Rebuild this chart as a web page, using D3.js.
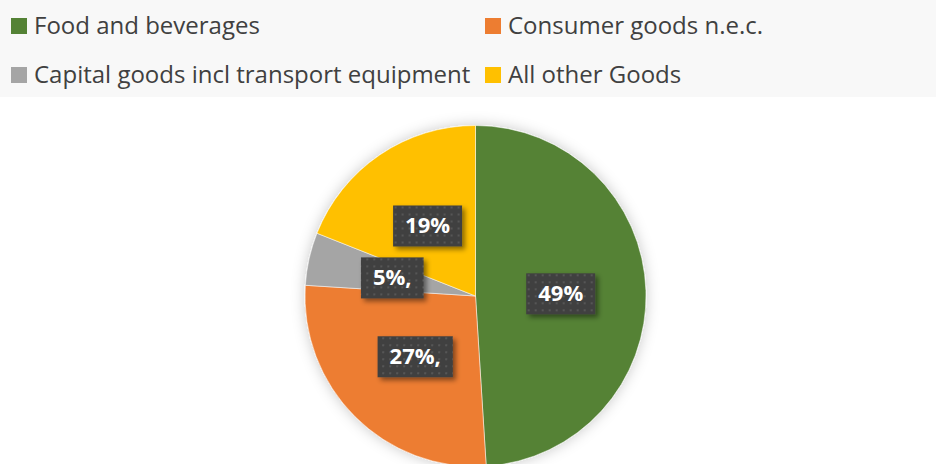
<!DOCTYPE html>
<html>
<head>
<meta charset="utf-8">
<script src="https://cdn.jsdelivr.net/npm/d3@7"></script>
<style>
  body { margin: 0; background: #fff; }
  svg { display: block; }
</style>
</head>
<body>
<div id="container"></div>
<script>
// Chart dimensions
const width = 936;
const height = 464;

// Data
const categories = ["Food and beverages", "Consumer goods n.e.c.", "Capital goods incl transport equipment", "All other Goods"];
const shares = [49, 27, 5, 19];
const labels = ["49%", "27%,", "5%,", "19%"];
const colors = ["#548235", "#ED7D31", "#A5A5A5", "#FFC000"];

const svg = d3.select("#container").append("svg")
    .attr("width", width)
    .attr("height", height);

const defs = svg.append("defs");

// soft glow round the pie
const glow = defs.append("filter").attr("id", "glow")
    .attr("x", "-20%").attr("y", "-20%").attr("width", "140%").attr("height", "140%");
glow.append("feDropShadow")
    .attr("dx", 0).attr("dy", 0)
    .attr("stdDeviation", 7)
    .attr("flood-color", "#000")
    .attr("flood-opacity", 0.22);

// shadow for the label boxes
const boxShadow = defs.append("filter").attr("id", "boxShadow")
    .attr("x", "-30%").attr("y", "-30%").attr("width", "160%").attr("height", "160%");
boxShadow.append("feDropShadow")
    .attr("dx", 3).attr("dy", 3)
    .attr("stdDeviation", 2.5)
    .attr("flood-color", "#000")
    .attr("flood-opacity", 0.45);

// dotted fill of the label boxes
const dots = defs.append("pattern").attr("id", "dots")
    .attr("width", 7).attr("height", 7)
    .attr("patternUnits", "userSpaceOnUse");
dots.append("rect").attr("width", 7).attr("height", 7).attr("fill", "#404040");
dots.append("rect").attr("x", 2).attr("y", 2).attr("width", 2).attr("height", 2).attr("fill", "#575757");

// Legend band
svg.append("rect")
    .attr("x", 0).attr("y", 0)
    .attr("width", width).attr("height", 97)
    .attr("fill", "#f8f8f8");

const legendX = d3.scalePoint().domain([0, 1]).range([11, 485]);
const legendY = d3.scalePoint().domain([0, 1]).range([34, 83]);

const legend = svg.append("g")
    .selectAll("g")
    .data(categories)
    .join("g")
    .attr("transform", (d, i) => `translate(${legendX(i % 2)},${legendY(Math.floor(i / 2))})`);

legend.append("rect")
    .attr("x", 0).attr("y", -16)
    .attr("width", 16).attr("height", 16)
    .attr("fill", (d, i) => colors[i]);

legend.append("text")
    .attr("x", 23)
    .attr("y", 0)
    .attr("fill", "#404040")
    .style("font-family", "'Open Sans', sans-serif")
    .style("font-size", "24px")
    .text(d => d);

// Pie
const cx = 475.5, cy = 296, radius = 170.5;

const pie = d3.pie().sort(null).value(d => d);
const arcs = pie(shares);
const arc = d3.arc().innerRadius(0).outerRadius(radius);

const g = svg.append("g").attr("transform", `translate(${cx},${cy})`);

g.append("g")
    .attr("filter", "url(#glow)")
    .selectAll("path")
    .data(arcs)
    .join("path")
    .attr("d", arc)
    .attr("fill", (d, i) => colors[i])
    .attr("stroke", "#fff")
    .attr("stroke-opacity", 0.5)
    .attr("stroke-width", 1);

// Data labels
const lab = g.append("g")
    .selectAll("g")
    .data(arcs)
    .join("g")
    .attr("transform", d => `translate(${arc.centroid(d)})`);

lab.append("text")
    .attr("text-anchor", "middle")
    .attr("dy", "0.36em")
    .attr("fill", "#fff")
    .style("font-family", "'Open Sans', sans-serif")
    .style("font-weight", "bold")
    .style("font-size", "22px")
    .text((d, i) => labels[i]);

lab.each(function() {
    const t = d3.select(this).select("text");
    const w = t.node().getComputedTextLength();
    d3.select(this).insert("rect", "text")
        .attr("x", -w / 2 - 12)
        .attr("y", -20)
        .attr("width", w + 24)
        .attr("height", 41)
        .attr("fill", "url(#dots)")
        .attr("filter", "url(#boxShadow)");
});
</script>
</body>
</html>
